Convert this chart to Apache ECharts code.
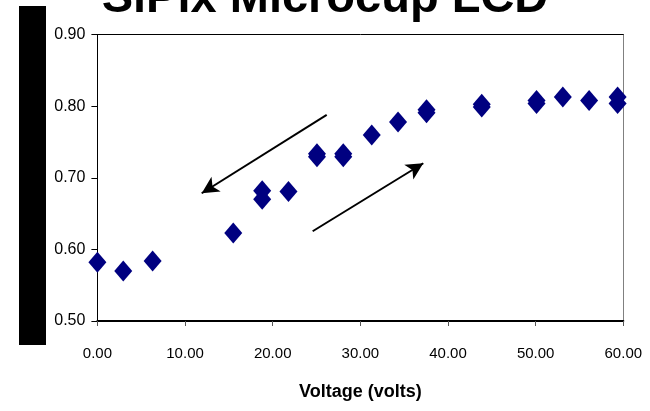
<!DOCTYPE html>
<html>
<head>
<meta charset="utf-8">
<style>
  html, body { margin: 0; padding: 0; background: #fff; }
  #chart { width: 650px; height: 411px; }
</style>
<script src="https://cdn.jsdelivr.net/npm/echarts@6/dist/echarts.min.js"></script>
</head>
<body>
<div id="chart"></div>
<script>
// Reflectance vs. driving voltage, measured on a sweep up and back down
const voltage = [0, 2.95, 6.3, 15.5, 18.8, 18.8, 21.8, 25.05, 25.05, 28.05, 28.05,
                 31.3, 34.3, 37.55, 37.55, 43.85, 43.85, 50.1, 50.1, 53.1, 56.1, 59.35, 59.35];
const reflectance = [0.582, 0.570, 0.584, 0.623, 0.682, 0.670, 0.681, 0.7335, 0.7295, 0.7335, 0.7295,
                     0.760, 0.778, 0.795, 0.791, 0.803, 0.799, 0.808, 0.804, 0.813, 0.808, 0.813, 0.804];

// Sweep-direction arrows, in data units: [start, end]
const sweepDown = [[26.16, 0.788], [11.9, 0.6785]];
const sweepUp = [[24.56, 0.6254], [37.18, 0.7204]];

const titleText = 'SiPix Microcup LCD';
const xTitle = 'Voltage (volts)';
const xMin = 0, xMax = 60, xStep = 10;
const yMin = 0.5, yMax = 0.9, yStep = 0.1;

const points = voltage.map((v, i) => [v, reflectance[i]]);

const sans = '"Liberation Sans", Arial, sans-serif';

const chart = echarts.init(document.getElementById('chart'), null, { renderer: 'canvas' });
chart.setOption({
  animation: false,
  backgroundColor: '#fff',
  title: {
    text: titleText,
    left: 320,
    top: -29,
    textAlign: 'center',
    textStyle: { fontFamily: sans, fontWeight: 'bold', fontSize: 47, color: '#000' }
  },
  graphic: [{
    type: 'rect',
    shape: { x: 19, y: 6, width: 27, height: 339 },
    style: { fill: '#000' },
    silent: true
  }],
  grid: { left: 97.4, right: 26.7, top: 34.7, bottom: 90, containLabel: false },
  xAxis: [{
    type: 'value',
    position: 'bottom',
    min: xMin, max: xMax, interval: xStep,
    name: xTitle,
    nameLocation: 'middle',
    nameGap: 62,
    nameTextStyle: { fontFamily: sans, fontWeight: 'bold', fontSize: 18, color: '#000' },
    axisLine: { show: true, onZero: false, lineStyle: { color: '#000', width: 2 } },
    axisTick: { show: true, inside: false, length: 5, lineStyle: { color: '#555', width: 1 } },
    axisLabel: {
      margin: 25,
      fontFamily: sans, fontSize: 15, color: '#000',
      formatter: v => v.toFixed(2)
    },
    splitLine: { show: false }
  }, {
    type: 'value',
    position: 'top',
    min: xMin, max: xMax,
    axisLine: { show: true, onZero: false, lineStyle: { color: '#000', width: 1 } },
    axisTick: { show: false },
    axisLabel: { show: false },
    splitLine: { show: false }
  }],
  yAxis: [{
    type: 'value',
    position: 'left',
    min: yMin, max: yMax, interval: yStep,
    axisLine: { show: true, onZero: false, lineStyle: { color: '#000', width: 1 } },
    axisTick: { show: true, inside: false, length: 6, lineStyle: { color: '#000', width: 1 } },
    axisLabel: {
      margin: 12,
      fontFamily: sans, fontSize: 16, color: '#000',
      formatter: v => v.toFixed(2)
    },
    splitLine: { show: false }
  }, {
    type: 'value',
    position: 'right',
    min: yMin, max: yMax,
    axisLine: { show: true, onZero: false, lineStyle: { color: '#808080', width: 1 } },
    axisTick: { show: false },
    axisLabel: { show: false },
    splitLine: { show: false }
  }],
  series: [{
    type: 'scatter',
    xAxisIndex: 0,
    yAxisIndex: 0,
    data: points,
    symbol: 'diamond',
    symbolSize: [18, 21],
    itemStyle: { color: '#000080', opacity: 1 },
    markLine: {
      silent: true,
      symbol: ['none', 'arrow'],
      symbolSize: [13, 17],
      label: { show: false },
      lineStyle: { color: '#000', width: 2, type: 'solid' },
      emphasis: { disabled: true },
      data: [
        [{ coord: sweepDown[0] }, { coord: sweepDown[1] }],
        [{ coord: sweepUp[0] }, { coord: sweepUp[1] }]
      ]
    }
  }]
});
</script>
</body>
</html>
